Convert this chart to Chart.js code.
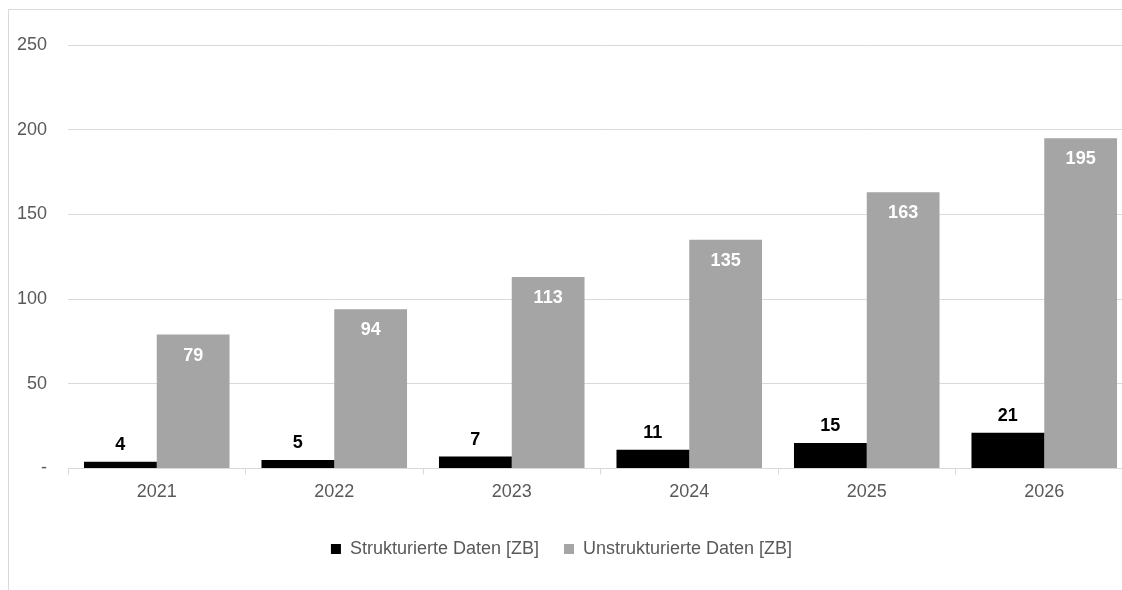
<!DOCTYPE html>
<html>
<head>
<meta charset="utf-8">
<script src="https://cdn.jsdelivr.net/npm/chart.js@4"></script>
<style>
  html, body { margin: 0; padding: 0; background: #fff; overflow: hidden; }
  body { width: 1122px; height: 590px; position: relative; }
  .frame { position: absolute; left: 8px; top: 9px; width: 1300px; height: 800px; border: 1px solid #d9d9d9; box-sizing: border-box; }
  .box { position: absolute; left: -10px; top: 0; width: 1146px; height: 590px; }
</style>
</head>
<body>
<div class="frame"></div>
<div class="box"><canvas id="chart"></canvas></div>
<script>
// Werte
const years = ["2021", "2022", "2023", "2024", "2025", "2026"]
const strukturiert = [4, 5, 7, 11, 15, 21]
const unstrukturiert = [79, 94, 113, 135, 163, 195]
const yTicks = [0, 50, 100, 150, 200, 250]

const textColor = "#595959"
const gridColor = "#d9d9d9"
const font = "'Liberation Sans', Arial, sans-serif"

// Beschriftung der Balken (kein datalabels-Plugin offline)
const barLabels = {
  id: "barLabels",
  afterDatasetsDraw(chart) {
    const ctx = chart.ctx
    ctx.save()
    ctx.font = "bold 18px " + font
    ctx.textAlign = "center"
    ctx.textBaseline = "middle"
    chart.data.datasets.forEach((ds, i) => {
      const meta = chart.getDatasetMeta(i)
      meta.data.forEach((bar, j) => {
        if (i === 0) {
          ctx.fillStyle = "#000"
          ctx.fillText(ds.data[j], bar.x, bar.y - 17)
        } else {
          ctx.fillStyle = "#fff"
          ctx.fillText(ds.data[j], bar.x, bar.y + 21)
        }
      })
    })
    ctx.restore()
  }
}

const chartData = {
  labels: years,
  datasets: [
    {
      label: "Strukturierte Daten [ZB]",
      data: strukturiert,
      backgroundColor: "#000000",
      barPercentage: 1,
      categoryPercentage: 0.82,
    },
    {
      label: "Unstrukturierte Daten [ZB]",
      data: unstrukturiert,
      backgroundColor: "#a5a5a5",
      barPercentage: 1,
      categoryPercentage: 0.82,
    },
  ],
}

const config = {
  type: "bar",
  data: chartData,
  options: {
    responsive: true,
    maintainAspectRatio: false,
    animation: false,
    layout: { padding: { top: 45, left: 0, right: 3, bottom: 22 } },
    plugins: {
      legend: {
        position: "bottom",
        labels: {
          color: textColor,
          font: { family: font, size: 18 },
          boxWidth: 10,
          boxHeight: 10,
          padding: 25,
        },
      },
      tooltip: { enabled: false },
    },
    scales: {
      x: {
        afterFit(axis) {
          axis.height = axis.height + 5
        },
        grid: {
          offset: true,
          drawOnChartArea: false,
          drawTicks: true,
          tickLength: 6,
          color: gridColor,
        },
        border: { display: true, color: gridColor },
        ticks: { color: textColor, font: { family: font, size: 18 }, padding: 7 },
      },
      y: {
        min: 0,
        max: 250,
        afterBuildTicks(axis) {
          axis.ticks = yTicks.map(v => ({ value: v }))
        },
        afterFit(axis) {
          axis.width = 78
        },
        grid: { color: gridColor, drawTicks: false },
        border: { display: false },
        ticks: {
          color: textColor,
          font: { family: font, size: 18 },
          padding: 21,
          callback: v => (v === 0 ? "-" : v),
        },
      },
    },
  },
  plugins: [barLabels],
}

new Chart(document.getElementById("chart"), config)
</script>
</body>
</html>
